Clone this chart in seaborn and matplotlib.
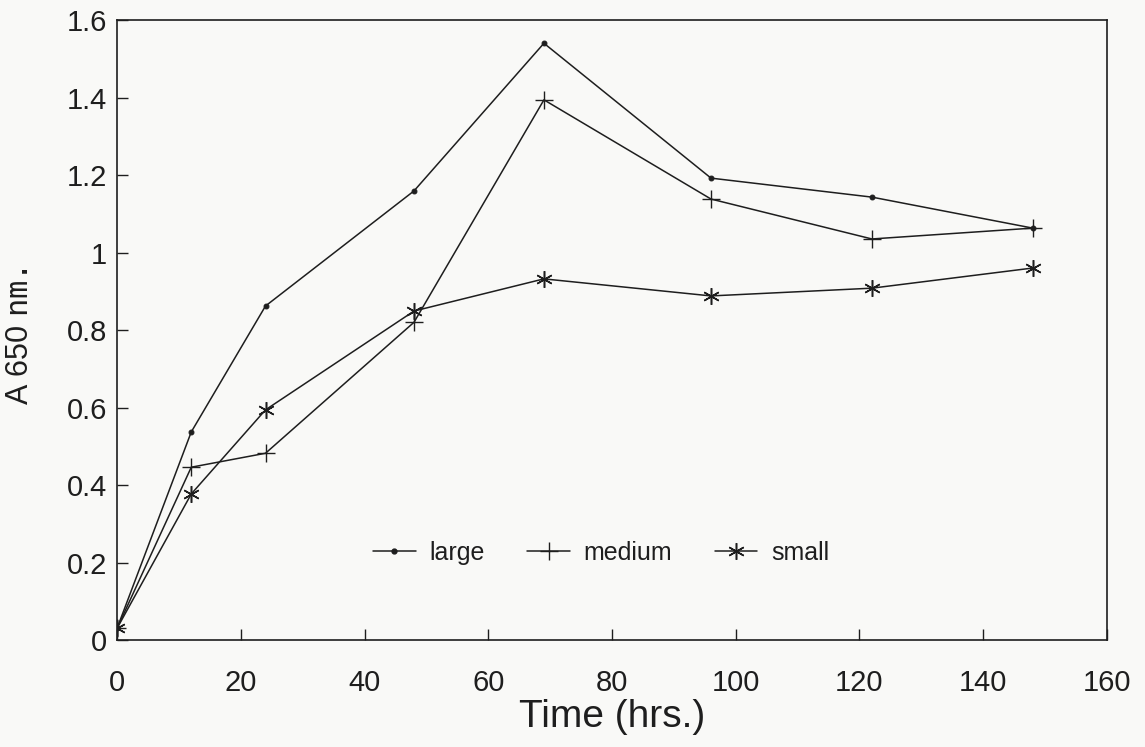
import numpy as np
import pandas as pd
import matplotlib
matplotlib.use("Agg")
import matplotlib.pyplot as plt
from matplotlib.lines import Line2D
import seaborn as sns

# Sampling times (hours) and absorbance at 650 nm for each granule size
time_hrs = [0, 12, 24, 48, 69, 96, 122, 148]
large = [0.03, 0.537, 0.862, 1.159, 1.54, 1.192, 1.143, 1.063]
medium = [0.03, 0.446, 0.482, 0.82, 1.394, 1.138, 1.035, 1.063]
small = [0.03, 0.377, 0.594, 0.849, 0.932, 0.888, 0.908, 0.96]

series_names = ["large", "medium", "small"]
x_ticks = [0, 20, 40, 60, 80, 100, 120, 140, 160]
y_ticks = [0, 0.2, 0.4, 0.6, 0.8, 1.0, 1.2, 1.4, 1.6]

df = pd.DataFrame({
    "time": time_hrs * 3,
    "a650": large + medium + small,
    "size": [n for n in series_names for _ in time_hrs],
})

sns.set_theme(style="ticks")
plt.rcParams["font.family"] = ["Liberation Sans", "DejaVu Sans"]
plt.rcParams["mathtext.fontset"] = "dejavusans"

ink = "#1e1e1e"
paper = "#f9f9f7"

fig = plt.figure(figsize=(11.45, 7.47), dpi=100, facecolor=paper)
ax = fig.add_axes([0.1022, 0.1432, 0.8646, 0.8300])
ax.set_facecolor(paper)

# marker style per series: dot, plus, asterisk
marker_style = {
    "large": dict(marker="o", markersize=3.5, markerfacecolor=ink, markeredgecolor=ink),
    "medium": dict(marker="+", markersize=13, markeredgewidth=1.0, markeredgecolor=ink),
    "small": dict(marker=(6, 2, 0), markersize=12, markeredgewidth=1.1, markeredgecolor=ink),
}

for name in series_names:
    sub = df[df["size"] == name]
    sns.lineplot(data=sub, x="time", y="a650", ax=ax, color=ink,
                 linewidth=1.1, estimator=None, errorbar=None,
                 legend=False, **marker_style[name])

ax.set_xlim(0, 160)
ax.set_ylim(0, 1.6)
ax.set_xticks(x_ticks)
ax.set_yticks(y_ticks)
ax.set_xticklabels([f"{v:g}" for v in x_ticks])
ax.set_yticklabels([f"{v:g}" for v in y_ticks])

for sp in ax.spines.values():
    sp.set_color(ink)
    sp.set_linewidth(1.2)

ax.tick_params(axis="both", direction="in", length=8, width=1.0,
               color=ink, labelcolor=ink, labelsize=21,
               top=False, right=False)
ax.tick_params(axis="x", pad=21)
ax.tick_params(axis="y", pad=7)

ax.set_xlabel("Time (hrs.)", fontsize=28, color=ink, labelpad=1)
ax.set_ylabel(r"A 650 $\mathtt{nm.}$", fontsize=22, color=ink)
ax.yaxis.set_label_coords(-0.083, 0.49)

handles = [Line2D([0], [0], color=ink, linewidth=1.1, **marker_style[n])
           for n in series_names]
ax.legend(handles, series_names, loc="center", bbox_to_anchor=(0.489, 0.14),
          ncol=3, frameon=False, fontsize=18, handlelength=1.7,
          handletextpad=0.55, columnspacing=1.7, labelcolor=ink)

fig.savefig("out.png", dpi=100, facecolor=paper)
